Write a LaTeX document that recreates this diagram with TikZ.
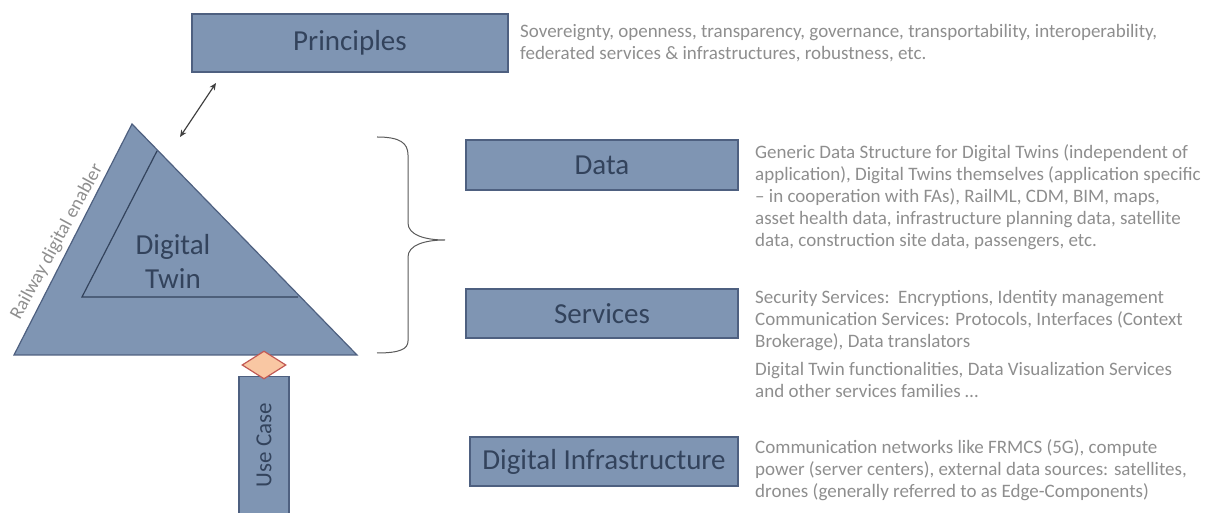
\documentclass[tikz,border=0pt]{standalone}
\usepackage{fontspec}
\setmainfont{Carlito}
\usetikzlibrary{shapes.geometric,arrows.meta}
\definecolor{boxfill}{HTML}{7F95B3}
\definecolor{boxline}{HTML}{4E6080}
\definecolor{labtext}{HTML}{33435C}
\definecolor{desc}{HTML}{8E8E8E}
\definecolor{dfill}{HTML}{F9C7A3}
\definecolor{dline}{HTML}{C25A55}
\tikzset{
  layerbox/.style={draw=boxline, line width=1.2pt, fill=boxfill, minimum width=272pt, minimum height=50pt, inner sep=0pt, text=labtext, font=\fontsize{29}{32}\selectfont},
  desctext/.style={anchor=west, align=left, text=desc, font=\fontsize{19}{22}\selectfont, inner sep=0pt},
}
\begin{document}
\begin{tikzpicture}[x=1pt,y=1pt]
\useasboundingbox (0,0) rectangle (1218,513);
% triangle
\draw[draw=boxline, line width=1.2pt, fill=boxfill] (132,389) -- (14,158) -- (357,158) -- cycle;
\draw[draw=labtext, line width=1.2pt] (157,362) -- (82,216) -- (298,216);
\node[text=labtext, align=center, font=\fontsize{29}{34}\selectfont] (dt) at (173,252) {Digital\\Twin};
\node[text=desc, rotate=61.5, font=\fontsize{19}{22}\selectfont, inner sep=0pt] (rde) at (57,271) {Railway digital enabler};
% boxes
\node[layerbox, minimum width=316pt, minimum height=58pt] (pr) at (350,470) {Principles};
\node[layerbox] (data) at (602,348) {Data};
\node[layerbox, minimum height=49pt] (serv) at (602,199.5) {Services};
\node[layerbox, minimum width=268pt, minimum height=49pt] (infra) at (604,51.5) {Digital Infrastructure};
% descriptions
\node[desctext] (prt) at (520,469.5) {Sovereignty, openness, transparency, governance, transportability, interoperability,\\federated services \& infrastructures, robustness, etc.};
\node[desctext] (datat) at (755,316) {Generic Data Structure for Digital Twins (independent of\\application), Digital Twins themselves (application specific\\-- in cooperation with FAs), RailML, CDM, BIM, maps,\\asset health data, infrastructure planning data, satellite\\data, construction site data, passengers, etc.};
\node[desctext] (servt) at (755,169) {Security Services:\ \ Encryptions, Identity management\\Communication Services: Protocols, Interfaces (Context\\Brokerage), Data translators\\[6pt]Digital Twin functionalities, Data Visualization Services\\and other services families \dots};
\node[desctext] (infrat) at (755,43) {Communication networks like FRMCS (5G), compute\\power (server centers), external data sources: satellites,\\drones (generally referred to as Edge-Components)};
% use case
\node[draw=boxline, line width=1.2pt, fill=boxfill, minimum width=50pt, minimum height=140pt, inner sep=0pt, anchor=north] (uc) at (264,137) {};
\node[rotate=90, text=labtext, font=\fontsize{23}{26}\selectfont] (uct) at (264,68) {Use Case};
\node[diamond, draw=dline, line width=1.2pt, fill=dfill, minimum width=44pt, minimum height=28pt, inner sep=0pt] (dia) at (264,148) {};
% arrow
\coordinate (a1) at (180,376);
\coordinate (a2) at (216,430);
\draw[{Stealth[length=7pt,width=6pt]}-{Stealth[length=7pt,width=6pt]}, line width=1.2pt, draw=black!75] (a1) -- (a2);
% brace
\coordinate (bt) at (377,376);
\coordinate (bb) at (377,160);
\coordinate (tip) at (445,273);
\draw[line width=1pt, draw=black!65] (bt) .. controls (400,376) and (408,370) .. (408,358)
  -- (408,290) .. controls (408,278) and (425,273) .. (tip)
  .. controls (425,273) and (408,268) .. (408,256)
  -- (408,172) .. controls (408,164) and (400,160) .. (bb);
\end{tikzpicture}
\end{document}
